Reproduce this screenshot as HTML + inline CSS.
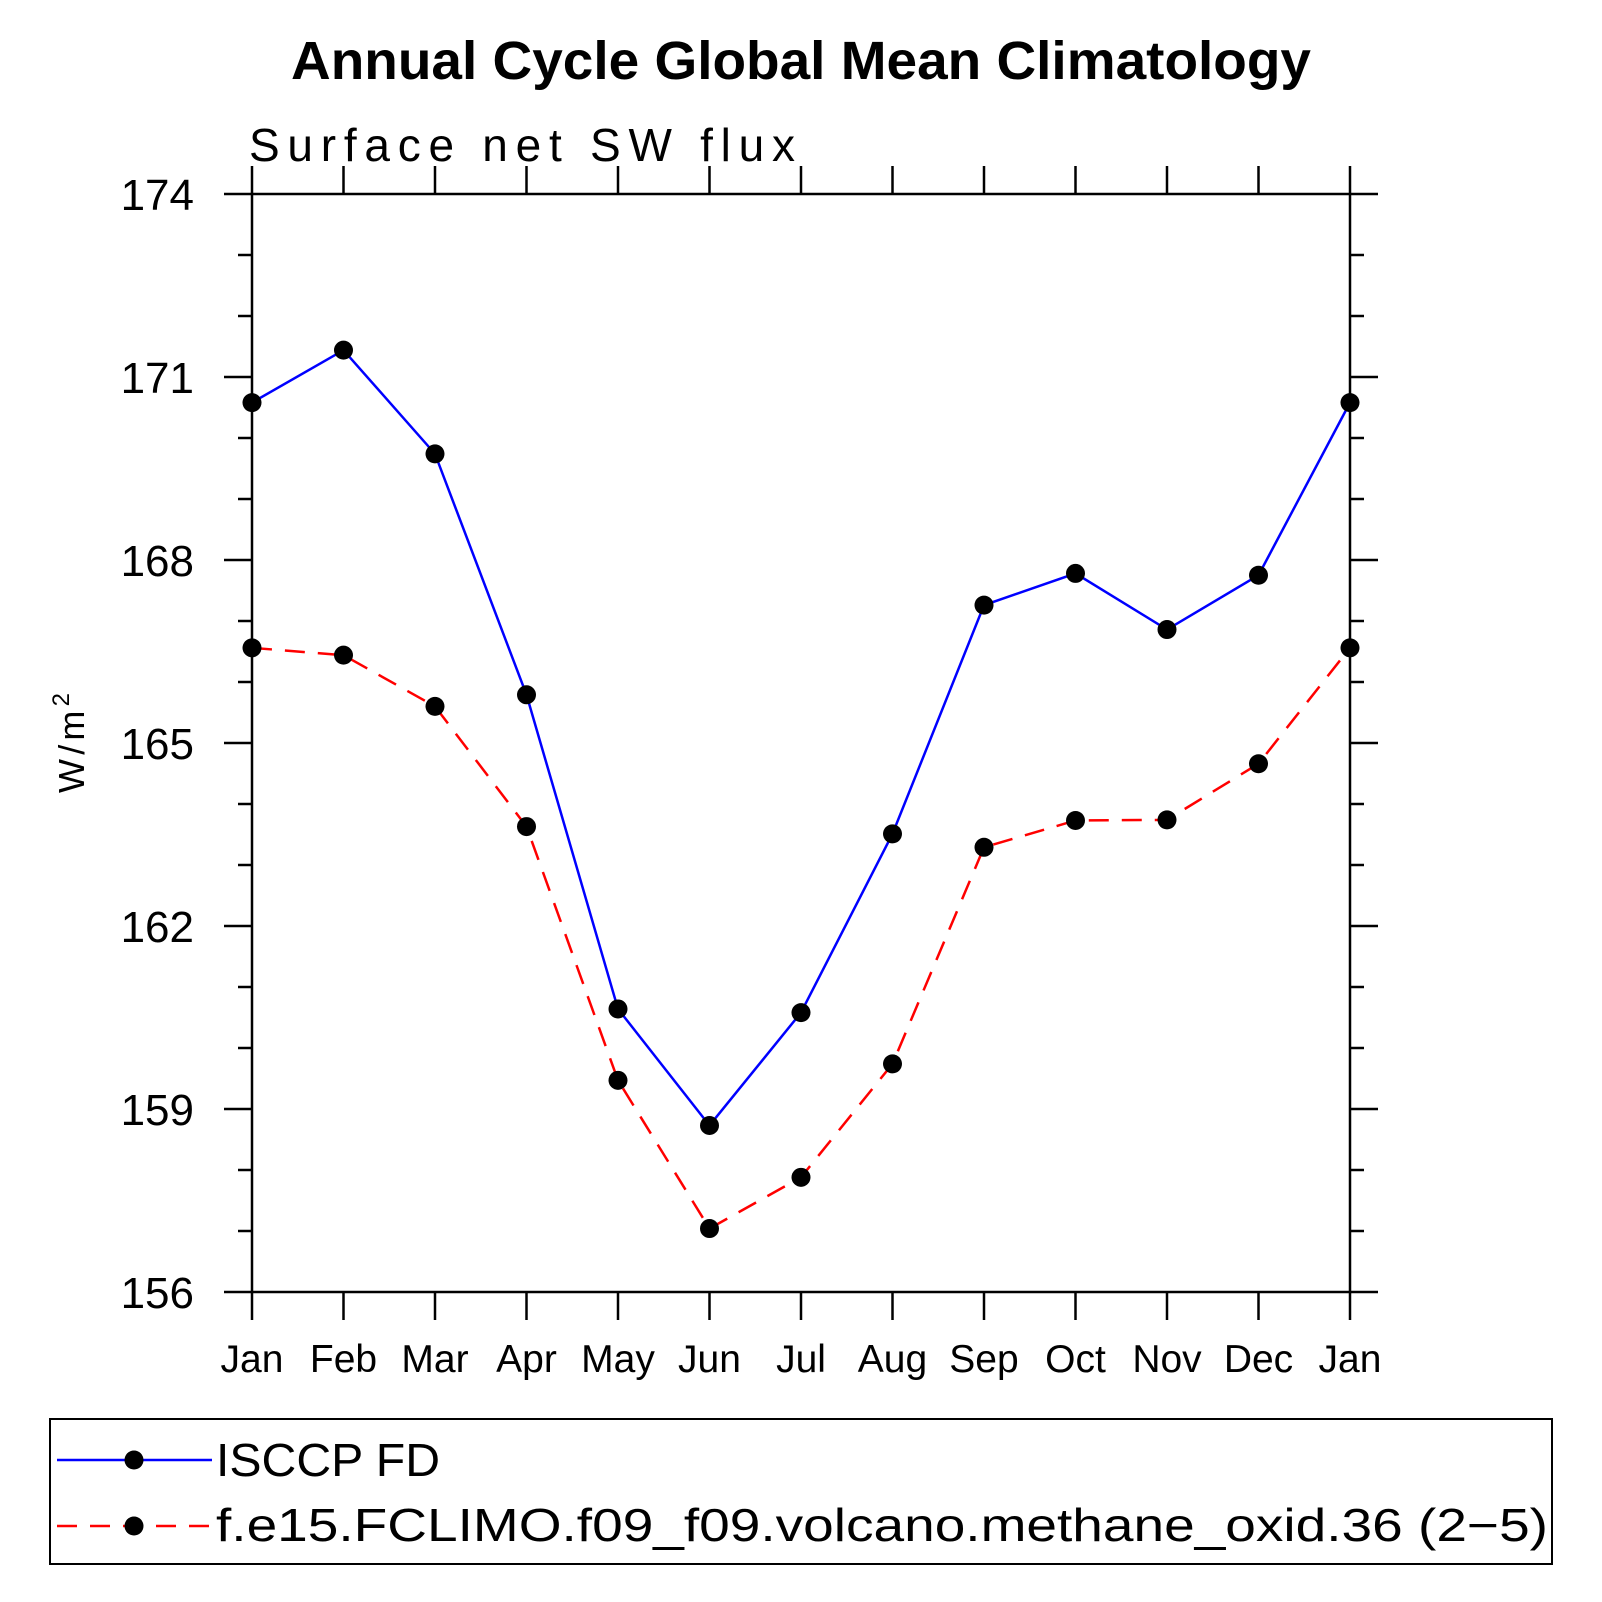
<!DOCTYPE html>
<html><head><meta charset="utf-8"><style>
html,body{margin:0;padding:0;background:#fff;}
svg{display:block;}
text{font-family:"Liberation Sans",sans-serif;}
</style></head><body>
<svg id="chart" width="1602" height="1602" viewBox="0 0 1602 1602">
<text x="801" y="79" text-anchor="middle" font-size="54" font-weight="bold" textLength="1020" lengthAdjust="spacingAndGlyphs">Annual Cycle Global Mean Climatology</text>
<text x="249" y="161" font-size="46" textLength="546" lengthAdjust="spacing">Surface net SW flux</text>
<text transform="translate(84,743) rotate(-90)" text-anchor="middle" font-size="36" textLength="100">W/m<tspan dy="-15" font-size="24">2</tspan></text>
<g id="axes"></g>
<g id="series"></g>
<rect x="50" y="1419" width="1502" height="145" fill="none" stroke="#000" stroke-width="2"/>
<g>
<line x1="57" y1="1460" x2="212" y2="1460" stroke="#00f" stroke-width="2.5"/>
<circle cx="134" cy="1460" r="9.5"/>
<text x="216" y="1476" font-size="46" textLength="224" lengthAdjust="spacingAndGlyphs">ISCCP FD</text>
</g>
<g>
<line x1="57" y1="1526" x2="212" y2="1526" stroke="#f00" stroke-width="2.5" stroke-dasharray="20,13"/>
<circle cx="134" cy="1526" r="9.5"/>
<text x="216" y="1541" font-size="46" textLength="1332" lengthAdjust="spacingAndGlyphs">f.e15.FCLIMO.f09_f09.volcano.methane_oxid.36 (2−5)</text>
</g>
</svg>
<script>
const months = ["Jan","Feb","Mar","Apr","May","Jun","Jul","Aug","Sep","Oct","Nov","Dec","Jan"];
const isccp = [170.58,171.44,169.74,165.79,160.64,158.73,160.58,163.51,167.26,167.78,166.86,167.75,170.58];
const model = [166.56,166.44,165.60,163.63,159.47,157.04,157.88,159.74,163.29,163.73,163.74,164.66,166.56];
const yTicks = [156,159,162,165,168,171,174];
const NS="http://www.w3.org/2000/svg";
const X0=252,X1=1350,Y0=194,Y1=1292,YMIN=156,YMAX=174;
const xs=i=>X0+i*(X1-X0)/(months.length-1);
const ys=v=>Y1-(v-YMIN)*(Y1-Y0)/(YMAX-YMIN);
function mk(tag,attrs,parent){const e=document.createElementNS(NS,tag);for(const k in attrs)e.setAttribute(k,attrs[k]);parent.appendChild(e);return e;}
const ax=document.getElementById('axes');
const frame=mk('rect',{x:X0,y:Y0,width:X1-X0,height:Y1-Y0,fill:'none',stroke:'#000','stroke-width':2.5},ax);


months.forEach((m,i)=>{
  const x=xs(i);
  mk('line',{x1:x,y1:Y1,x2:x,y2:Y1+28,stroke:'#000','stroke-width':2.5},ax);
  mk('line',{x1:x,y1:Y0,x2:x,y2:Y0-28,stroke:'#000','stroke-width':2.5},ax);
  const t=mk('text',{x:x,y:1372,'text-anchor':'middle','font-size':39},ax);
  t.textContent=m;
  
  
});
for(let v=YMIN;v<=YMAX;v++){
  const y=ys(v);const major=yTicks.includes(v);const L=major?28:14;
  mk('line',{x1:X0-L,y1:y,x2:X0,y2:y,stroke:'#000','stroke-width':2.5},ax);
  mk('line',{x1:X1,y1:y,x2:X1+L,y2:y,stroke:'#000','stroke-width':2.5},ax);
}
yTicks.forEach(v=>{
  const t=mk('text',{x:194,y:ys(v)+16,'text-anchor':'end','font-size':44},ax);
  t.textContent=v;
  
  
});
const sg=document.getElementById('series');
function series(vals,color,dash,name){
  const g=mk('g',{},sg);
  
  
  const pl=mk('polyline',{points:vals.map((v,i)=>xs(i)+','+ys(v)).join(' '),fill:'none',stroke:color,'stroke-width':2.5},g);
  if(dash)pl.setAttribute('stroke-dasharray',dash);
  vals.forEach((v,i)=>{
    const c=mk('circle',{cx:xs(i),cy:ys(v),r:9.5,fill:'#000'},g);
    
    
  });
}
series(model,'#f00','20,13','series-model');
series(isccp,'#00f',null,'series-isccp');
</script>
</body></html>
